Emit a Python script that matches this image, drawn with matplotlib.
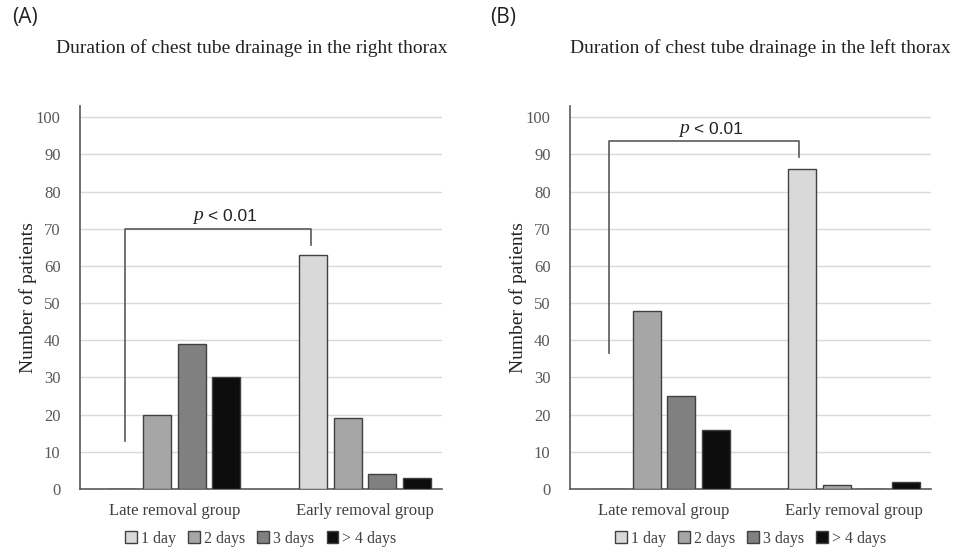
import matplotlib
matplotlib.use("Agg")
import matplotlib.pyplot as plt
from matplotlib.patches import Patch
import numpy as np

groups = ["Late removal group", "Early removal group"]
durations = ["1 day", "2 days", "3 days", "> 4 days"]
right_thorax = {
    "1 day": [0, 63],
    "2 days": [20, 19],
    "3 days": [39, 4],
    "> 4 days": [30, 3],
}
left_thorax = {
    "1 day": [0, 86],
    "2 days": [48, 1],
    "3 days": [25, 0],
    "> 4 days": [16, 2],
}
yticks = list(range(0, 101, 10))
titles = ["Duration of chest tube drainage in the right thorax",
          "Duration of chest tube drainage in the left thorax"]
panel_labels = ["(A)", "(B)"]
pvalue_text = "< 0.01"

colors = ["#d9d9d9", "#a6a6a6", "#808080", "#0d0d0d"]
serif = "Liberation Serif"

fig = plt.figure(figsize=(9.56, 5.54), dpi=100)
W, H = 956, 554

def ax_rect(x0, x1, ytop, ybot):
    return [x0 / W, 1 - ybot / H, (x1 - x0) / W, (ybot - ytop) / H]

axes_specs = [
    (ax_rect(80, 442, 106, 489), right_thorax, (-0.258, 0.716, 13, 70, 65.5), 252, 12, 37),
    (ax_rect(570, 931, 106, 489), left_thorax, (-0.29, 0.71, 36.5, 93.5, 89.3), 760, 490, 527),
]

bw = 0.147
step = 0.1815
for i, (rect, data, br, title_x, lab_x, ylab_x) in enumerate(axes_specs):
    ax = fig.add_axes(rect)
    x = np.arange(len(groups))
    for k, d in enumerate(durations):
        ax.bar(x + (k - 1.5) * step, data[d], width=bw, color=colors[k],
               edgecolor="#404040", linewidth=1.0, zorder=3, label=d)
    ax.set_xlim(-0.495, 1.405)
    ax.set_ylim(0, 103)
    ax.set_yticks(yticks)
    ax.set_yticklabels([str(t) for t in yticks], family=serif, fontsize=12, color="#595959")
    ax.set_xticks(x)
    ax.set_xticklabels(groups, family=serif, fontsize=12, color="#404040")
    ax.tick_params(axis="x", length=0, pad=10)
    ax.tick_params(axis="y", length=0, pad=14)
    ax.grid(axis="y", color="#d9d9d9", linewidth=1.0, zorder=0)
    for s in ["top", "right"]:
        ax.spines[s].set_visible(False)
    ax.spines["left"].set_color("#595959")
    ax.spines["bottom"].set_color("#595959")
    ax.spines["left"].set_linewidth(1.2)
    ax.spines["bottom"].set_linewidth(1.2)
    ax.set_ylabel("Number of patients", family=serif, fontsize=14, color="#222222")
    ax.yaxis.set_label_coords((ylab_x - rect[0] * W) / (rect[2] * W), 0.5)

    # significance bracket
    xl, xr, yl, ytop, yr = br
    ax.plot([xl, xl, xr, xr], [yl, ytop, ytop, yr], color="#595959", linewidth=1.2,
            zorder=4, clip_on=False)
    xm = (xl + xr) / 2
    ax.text(xm - 0.08, ytop + 1.2, "p", family=serif, style="italic",
            fontsize=14, ha="right", va="bottom", color="#222222")
    ax.text(xm - 0.05, ytop + 1.2, pvalue_text, family="Liberation Sans",
            fontsize=12.5, ha="left", va="bottom", color="#222222")

    handles = [Patch(facecolor=colors[k], edgecolor="#404040", label=d)
               for k, d in enumerate(durations)]
    ax.legend(handles=handles, loc="center", bbox_to_anchor=(0.5, -0.13),
              ncol=4, frameon=False, prop={"family": serif, "size": 11.5},
              handlelength=0.75, handleheight=0.75, handletextpad=0.25,
              columnspacing=0.75, labelcolor="#404040", borderpad=0.1)

    fig.text(title_x / W, 1 - 48 / H, titles[i], family=serif, fontsize=14,
             ha="center", va="center", color="#222222")
    fig.text(lab_x / W, 1 - 18 / H, panel_labels[i], family="Open Sans", fontsize=15,
             ha="left", va="center", color="#222222")

fig.savefig("out.png", dpi=100)
